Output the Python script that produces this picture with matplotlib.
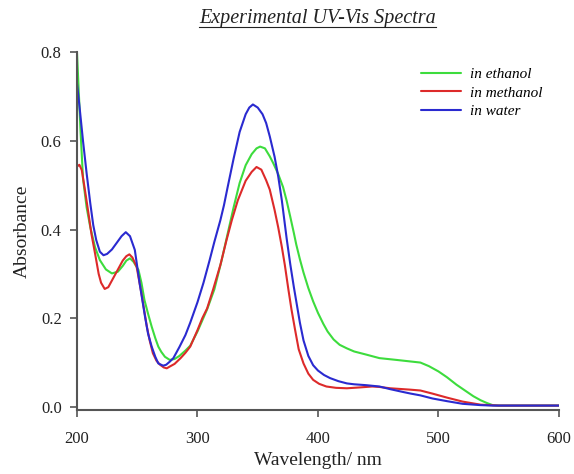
import matplotlib
matplotlib.use("Agg")
import matplotlib.pyplot as plt
from matplotlib.lines import Line2D

# wavelengths (nm) and absorbances
wl_ethanol = [200, 201, 203, 205, 208, 211, 215, 219, 224, 229, 234, 238, 241, 244, 247,
              251, 253.5, 256, 259, 262, 265, 267.5, 270, 273, 277, 281, 285, 290, 294, 300,
              308, 314, 320, 325, 330, 335, 340, 345, 349, 352, 356, 360, 363, 367, 371,
              374, 377, 380, 382, 385, 388, 392, 396, 400, 404.5, 408, 413, 418, 424, 430,
              440, 451, 465, 475, 485, 492, 500, 507, 515, 522, 529, 535, 540, 545, 550,
              560, 580, 600]
abs_ethanol = [0.80, 0.74, 0.62, 0.515, 0.45, 0.406, 0.36, 0.331, 0.31, 0.301, 0.305, 0.318, 0.33, 0.335, 0.327,
               0.309, 0.28, 0.241, 0.21, 0.181, 0.155, 0.136, 0.124, 0.113, 0.106, 0.108, 0.115, 0.127, 0.138, 0.17,
               0.22, 0.265, 0.33, 0.39, 0.45, 0.505, 0.545, 0.57, 0.583, 0.587, 0.583, 0.565, 0.549, 0.525, 0.496,
               0.465, 0.429, 0.392, 0.366, 0.333, 0.303, 0.268, 0.238, 0.212, 0.187, 0.17, 0.152, 0.14, 0.132, 0.125,
               0.118, 0.11, 0.106, 0.103, 0.1, 0.092, 0.08, 0.067, 0.05, 0.037, 0.024, 0.015, 0.009, 0.004, 0.003,
               0.003, 0.003, 0.003]

wl_methanol = [200, 202, 204, 206, 209.5, 212, 215, 218, 220, 223, 226, 230, 234, 238, 241,
               243.5, 246, 249.5, 253.5, 258, 260.5, 263, 266, 269, 272, 274.5, 277, 281, 286, 290,
               294, 300, 304, 308, 313, 319, 324, 328.5, 333.5, 340, 345, 349, 353, 357, 360,
               364, 367, 370, 372.5, 375.5, 378, 381, 384, 388, 392, 396, 401, 407, 415, 424,
               435, 445, 451, 460, 476, 485, 495, 507, 520, 535, 550, 560, 580, 600]
abs_methanol = [0.542, 0.546, 0.534, 0.5, 0.437, 0.39, 0.346, 0.3, 0.28, 0.266, 0.27, 0.29, 0.31, 0.33, 0.34,
                0.344, 0.337, 0.316, 0.256, 0.181, 0.148, 0.121, 0.104, 0.095, 0.089, 0.087, 0.091, 0.097, 0.11, 0.122,
                0.136, 0.173, 0.2, 0.222, 0.265, 0.32, 0.375, 0.421, 0.466, 0.51, 0.53, 0.541, 0.535, 0.511, 0.49,
                0.444, 0.405, 0.361, 0.32, 0.264, 0.22, 0.174, 0.13, 0.098, 0.075, 0.061, 0.052, 0.046, 0.043, 0.042,
                0.044, 0.046, 0.045, 0.042, 0.039, 0.037, 0.03, 0.021, 0.012, 0.005, 0.003, 0.003, 0.003, 0.003]

wl_water = [200, 202, 205, 208, 211, 213.5, 216, 219, 222, 225, 229, 233, 237, 240.5, 244,
            248, 252, 256.5, 259, 262, 265, 267.5, 271.5, 274, 277, 280, 285, 290, 294, 300,
            305, 310, 314, 319, 322, 325, 330, 335, 340, 343, 346, 350, 354, 357, 360,
            364, 367, 370, 374, 377, 380, 385, 388, 392, 396, 400, 405, 410, 417, 424,
            430, 440, 451, 460, 470, 477, 485, 495, 507, 520, 535, 545, 560, 580, 600]
abs_water = [0.73, 0.68, 0.60, 0.527, 0.46, 0.41, 0.376, 0.35, 0.342, 0.345, 0.355, 0.37, 0.385, 0.394, 0.385,
             0.354, 0.279, 0.203, 0.165, 0.136, 0.113, 0.098, 0.093, 0.095, 0.102, 0.11, 0.135, 0.162, 0.19, 0.236,
             0.28, 0.33, 0.372, 0.421, 0.455, 0.495, 0.56, 0.62, 0.66, 0.675, 0.682, 0.675, 0.66, 0.64, 0.61,
             0.564, 0.52, 0.466, 0.38, 0.322, 0.27, 0.19, 0.15, 0.115, 0.094, 0.082, 0.072, 0.065, 0.058, 0.053,
             0.051, 0.049, 0.046, 0.04, 0.034, 0.03, 0.026, 0.019, 0.013, 0.007, 0.004, 0.003, 0.003, 0.003, 0.003]

plt.rcParams['font.family'] = ['Liberation Serif', 'DejaVu Serif']

fig = plt.figure(figsize=(5.74, 4.74), dpi=100)
ax = fig.add_axes([0.1341, 0.135, 0.8397, 0.755])

line_kw = dict(lw=1.5, solid_joinstyle='round', solid_capstyle='round')
ax.plot(wl_ethanol, abs_ethanol, color='#3ddc3d', label='in ethanol', **line_kw)
ax.plot(wl_methanol, abs_methanol, color='#dd2a2a', label='in methanol', **line_kw)
ax.plot(wl_water, abs_water, color='#2a2ad0', label='in water', **line_kw)

ax.set_xlim(200, 600)
ax.set_ylim(-0.007, 0.8)
ax.set_xticks([200, 300, 400, 500, 600])
ax.set_yticks([0.0, 0.2, 0.4, 0.6, 0.8])
ax.set_yticklabels(['0.0', '0.2', '0.4', '0.6', '0.8'])
for s in ['top', 'right']:
    ax.spines[s].set_visible(False)
for s in ['left', 'bottom']:
    ax.spines[s].set_color('#555555')
    ax.spines[s].set_linewidth(1.5)
ax.tick_params(colors='#555555', labelcolor='#222222', labelsize=12, length=5, width=1.2)
ax.tick_params(axis='x', pad=10)
ax.tick_params(axis='y', pad=6)

ax.set_xlabel('Wavelength/ nm', fontsize=14, color='#222222', labelpad=4)
ax.set_ylabel('Absorbance', fontsize=14, color='#222222', labelpad=7)

ax.legend(loc='upper right', bbox_to_anchor=(0.995, 0.995), frameon=False,
          prop={'style': 'italic', 'size': 11}, handlelength=2.6, labelspacing=0.3,
          handletextpad=0.6)

title = fig.text(0.553, 0.962, 'Experimental UV-Vis Spectra', ha='center', va='center',
                 fontsize=14.5, style='italic', color='#222222')

# underline the title
fig.canvas.draw()
bb = title.get_window_extent().transformed(fig.transFigure.inverted())
fig.add_artist(Line2D([bb.x0, bb.x1], [bb.y0 + 0.002, bb.y0 + 0.002], transform=fig.transFigure,
                      color='#222222', lw=0.8))

fig.savefig('out.png', dpi=100)
